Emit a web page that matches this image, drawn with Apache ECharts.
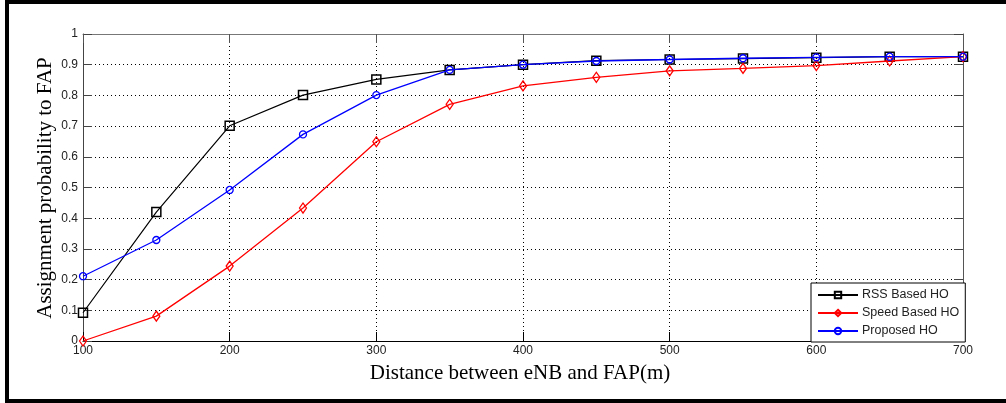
<!DOCTYPE html>
<html>
<head>
<meta charset="utf-8">
<script src="https://cdn.jsdelivr.net/npm/echarts@6/dist/echarts.min.js"></script>
<style>html,body{margin:0;padding:0;background:#fff;}#c{width:1006px;height:403px;}</style>
</head>
<body>
<div id="c"></div>
<script>
var distances = [100,150,200,250,300,350,400,450,500,550,600,650,700];
var rssValues = [0.092,0.420,0.701,0.801,0.852,0.883,0.900,0.913,0.917,0.920,0.923,0.926,0.926];
var speedValues = [0.0,0.081,0.244,0.433,0.649,0.771,0.831,0.859,0.880,0.888,0.897,0.912,0.926];
var proposedValues = [0.211,0.329,0.492,0.673,0.801,0.883,0.900,0.912,0.917,0.921,0.924,0.926,0.926];
var seriesNames = ['RSS Based HO','Speed Based HO','Proposed HO'];
var xTitle = 'Distance between eNB and FAP(m)';
var yTitle = 'Assignment probability to FAP';

function pairs(vals){ return distances.map(function(d,i){ return [d, vals[i]]; }); }

var chart = echarts.init(document.getElementById('c'));
var labelStyle = {color:'#222', fontFamily:'Liberation Sans', fontSize:12};
var gridDash = {color:'#000', type:[1,3], width:1};
chart.setOption({
  animation:false,
  backgroundColor:'#fff',
  grid:{left:83, right:43, top:34, bottom:62},
  xAxis:[
    {type:'value', min:100, max:700, interval:100, position:'bottom',
     axisLine:{show:true, onZero:false, lineStyle:{color:'#000', width:1}},
     axisTick:{show:true, inside:true, length:9, lineStyle:{color:'#000'}},
     axisLabel:Object.assign({margin:4}, labelStyle),
     splitLine:{show:true, lineStyle:gridDash}},
    {type:'value', min:100, max:700, interval:100, position:'top',
     axisLine:{show:true, onZero:false, lineStyle:{color:'#777', width:1}},
     axisTick:{show:true, inside:true, length:9, lineStyle:{color:'#555'}},
     axisLabel:{show:false}, splitLine:{show:false}}
  ],
  yAxis:[
    {type:'value', min:0, max:1, interval:0.1, position:'left',
     axisLine:{show:true, onZero:false, lineStyle:{color:'#444', width:1}},
     axisTick:{show:true, inside:true, length:9, lineStyle:{color:'#444'}},
     axisLabel:Object.assign({margin:5}, labelStyle),
     splitLine:{show:true, lineStyle:gridDash}},
    {type:'value', min:0, max:1, interval:0.1, position:'right',
     axisLine:{show:true, onZero:false, lineStyle:{color:'#555', width:1}},
     axisTick:{show:true, inside:true, length:9, lineStyle:{color:'#444'}},
     axisLabel:{show:false}, splitLine:{show:false}}
  ],
  legend:{
    orient:'vertical', left:811, top:283, width:152,
    padding:[5,6,4,6], itemGap:4, itemWidth:40, itemHeight:8,
    backgroundColor:'#fff', borderColor:'#000', borderWidth:1, borderRadius:0,
    textStyle:{color:'#222', fontFamily:'Liberation Sans', fontSize:12.5, lineHeight:14, padding:[0,0,0,-1]},
    data:seriesNames
  },
  graphic:[
    {type:'rect', shape:{x:5,y:0,width:1001,height:4}, style:{fill:'#000'}, z:100},
    {type:'rect', shape:{x:5,y:0,width:4,height:403}, style:{fill:'#000'}, z:100},
    {type:'rect', shape:{x:5,y:399,width:1001,height:4}, style:{fill:'#000'}, z:100},
    {type:'text', x:520, y:373, style:{text:xTitle, fill:'#000', font:'21px "Liberation Serif"', textAlign:'center', textVerticalAlign:'middle'}},
    {type:'text', x:45, y:188, rotation:Math.PI/2, style:{text:yTitle, fill:'#000', font:'21px "Liberation Serif"', textAlign:'center', textVerticalAlign:'middle'}}
  ],
  series:[
    {name:seriesNames[0], type:'line', data:pairs(rssValues), symbol:'rect', symbolSize:9,
     lineStyle:{color:'#000', width:1.2}, itemStyle:{color:'rgba(255,255,255,0)', borderColor:'#000', borderWidth:1.5}, z:3},
    {name:seriesNames[1], type:'line', data:pairs(speedValues), symbol:'diamond', symbolSize:[7,10],
     lineStyle:{color:'#f00', width:1.3}, itemStyle:{color:'rgba(255,255,255,0)', borderColor:'#f00', borderWidth:1.3}, z:4},
    {name:seriesNames[2], type:'line', data:pairs(proposedValues), symbol:'circle', symbolSize:7,
     lineStyle:{color:'#00f', width:1.3}, itemStyle:{color:'rgba(255,255,255,0)', borderColor:'#00f', borderWidth:1.3}, z:5}
  ]
});
</script>
</body>
</html>
